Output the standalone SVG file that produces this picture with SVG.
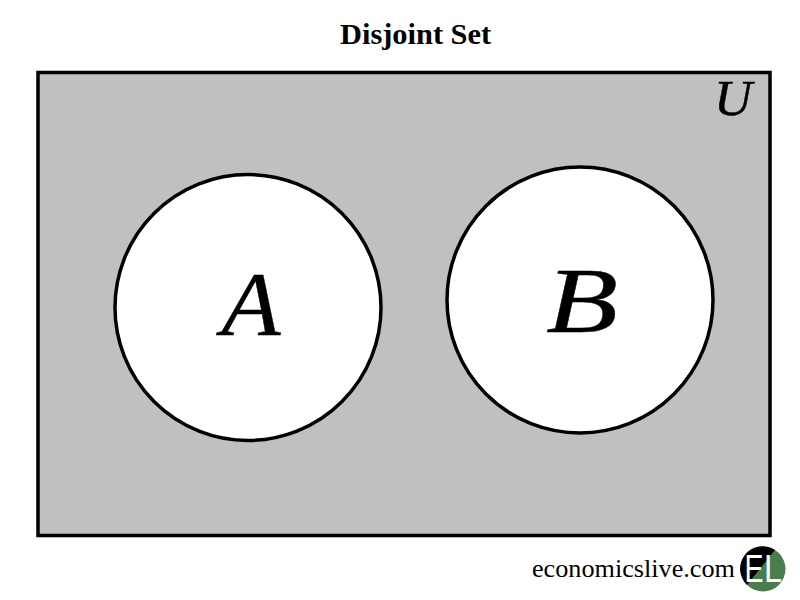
<svg xmlns="http://www.w3.org/2000/svg" width="800" height="600" viewBox="0 0 800 600">
<style>
.t{font-family:"Liberation Serif","Times New Roman",serif;fill:#000}
.m{font-style:italic;stroke:#000;stroke-width:.4}
.set{fill:#fff;stroke:#000;stroke-width:3.5}
.lg{font-family:"Liberation Sans",sans-serif;font-size:38px;fill:#fff}
</style>
<rect width="800" height="600" fill="#fff"/>
<text class="t" x="340" y="44" font-size="30.400" font-weight="bold">Disjoint Set</text>
<g id="universe">
<rect x="38" y="72.500" width="732" height="463" fill="#c0c0c0" stroke="#000" stroke-width="3.500"/>
<text class="t m" x="714" y="115" font-size="50" textLength="38" lengthAdjust="spacingAndGlyphs">U</text>
</g>
<g id="set-a">
<circle class="set" cx="248" cy="307.500" r="133"/>
<text class="t m" x="221.500" y="335" font-size="90" textLength="59" lengthAdjust="spacingAndGlyphs">A</text>
</g>
<g id="set-b">
<circle class="set" cx="580" cy="300" r="133"/>
<text class="t m" x="546" y="332" font-size="94" textLength="72" lengthAdjust="spacingAndGlyphs">B</text>
</g>
<text class="t" x="532" y="577" font-size="26.200" id="credit">economicslive.com</text>
<g id="logo">
<circle cx="763" cy="569" r="22.500" fill="#4a7c4e"/>
<path d="M747 585 A22.500 22.500 0 0 1 775 550 Z" fill="#000"/>
<text class="lg" x="744.500" y="582" textLength="19" lengthAdjust="spacingAndGlyphs">E</text>
<text class="lg" x="764" y="582" textLength="18" lengthAdjust="spacingAndGlyphs">L</text>
</g>
</svg>
